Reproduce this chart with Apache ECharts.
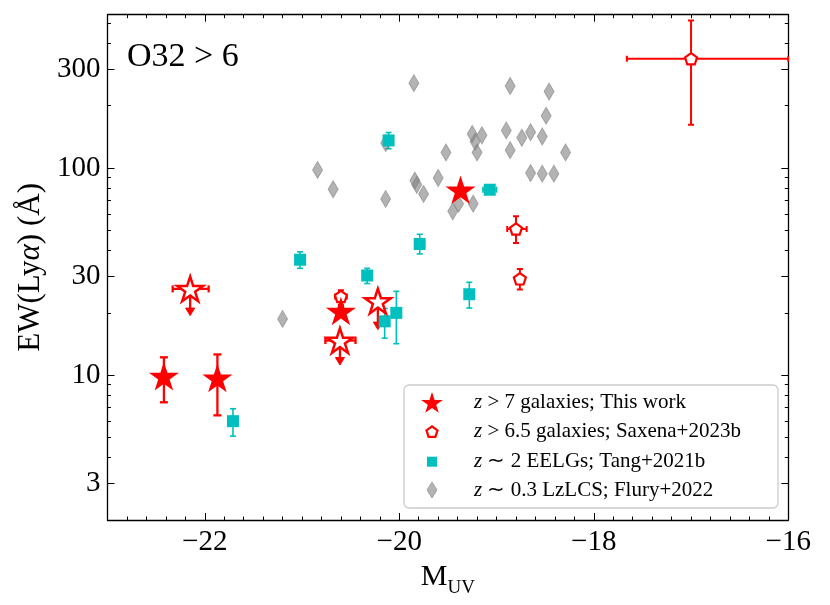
<!DOCTYPE html>
<html><head><meta charset="utf-8">
<script src="https://cdn.jsdelivr.net/npm/echarts@6/dist/echarts.min.js"></script>
<style>html,body{margin:0;padding:0;background:#fff}#c{width:830px;height:605px}</style>
</head><body><div id="c"></div>
<script>
// ---- This work (z > 7), detections ----
const twM    = [-22.42, -21.87, -20.60, -19.37];
const twEW   = [9.9, 9.7, 20.4, 78.5];
const twEWlo = [7.4, 6.4, null, null];
const twEWhi = [12.2, 12.6, null, null];
// ---- This work, upper limits ----
const ulM    = [-22.15, -20.61, -20.22];
const ulEW   = [26.1, 14.7, 22.8];
const ulMlo  = [-22.33, -20.76, null];
const ulMhi  = [-21.96, -20.45, null];
const ulTip  = [19.4, 11.2, 16.6];
// ---- Saxena+2023b ----
const sxM    = [-17.0, -18.80, -18.76, -20.60];
const sxEW   = [337, 50.8, 29.2, 24.0];
const sxMlo  = [-17.66, -18.89, null, -20.66];
const sxMhi  = [-16.0, -18.69, null, -20.54];
const sxEWlo = [162, 43.5, 25.9, 21.8];
const sxEWhi = [515, 58.5, 32.6, 25.7];
// ---- Tang+2021b ----
const tgM    = [-20.11, -21.02, -19.79, -20.33, -19.07, -19.28, -20.15, -20.03, -21.71];
const tgEW   = [136, 36.1, 43.0, 30.3, 78.6, 24.6, 18.2, 20.0, 6.0];
const tgMlo  = [null, null, null, null, -19.14, null, null, null, null];
const tgMhi  = [null, null, null, null, -19.00, null, null, null, null];
const tgEWlo = [124, 32.8, 38.5, 27.7, 76, 21.1, 15.1, 14.2, 5.08];
const tgEWhi = [148.5, 39.4, 47.9, 32.8, 81, 28.1, 21.0, 25.4, 6.89];
// ---- Flury+2022 ----
const flM  = [-19.85,-18.86,-18.46,-18.49,-19.25,-19.15,-19.22,-19.20,-18.90,-18.74,-18.65,-18.53,-18.86,-19.52,-18.29,-20.14,-20.84,-20.68,-20.14,-19.84,-19.82,-19.75,-19.60,-18.65,-18.53,-18.41,-19.39,-19.45,-19.24,-21.20];
const flEW = [257,249,234,179,146,144,134,119,152,140,149,142,122,119,119,132,98,79,71,87,83,75,89.5,94.6,94,94,67.3,61.8,67.3,18.7];
// ---- axes / labels ----
const xTicks = [-22, -20, -18, -16];
const yTicks = [3, 10, 30, 100, 300];
const yMinor = [4,5,6,7,8,9,20,40,50,60,70,80,90,200,400,500];
const names = ['z > 7 galaxies; This work', 'z > 6.5 galaxies; Saxena+2023b', 'z \u223c 2 EELGs; Tang+2021b', 'z \u223c 0.3 LzLCS; Flury+2022'];

const FONT = 'Liberation Serif';
const RED = '#ff0000', CYAN = '#00bfbf', GREY = '#808080';

function starPts(cx, cy, R){
  const p=[];
  for(let k=0;k<10;k++){const r=k%2===0?R:R*0.381966;const a=Math.PI/2+k*Math.PI/5;p.push([cx+r*Math.cos(a), cy-r*Math.sin(a)]);}
  return p;
}
function pentPts(cx, cy, R){
  const p=[];
  for(let k=0;k<5;k++){const a=Math.PI/2+k*2*Math.PI/5;p.push([cx+R*Math.cos(a), cy-R*Math.sin(a)]);}
  return p;
}
const toPath = pts => 'path://M' + pts.map(q=>q[0].toFixed(4)+' '+q[1].toFixed(4)).join(' L') + ' Z';
const STAR = toPath(starPts(0,0,1)), PENT = toPath(pentPts(0,0,1));
const DIAM = 'path://M0 -1 L0.6 0 L0 1 L-0.6 0 Z';
const SQR = 'path://M0 0 L1 0 L1 1 L0 1 Z';

const zip = (a,b) => a.map((v,i)=>[v,b[i]]);
const pick = (arr,i,d) => (arr && arr[i]!=null) ? arr[i] : d;
const errData = (x,y,xl,xh,yl,yh) => x.map((v,i)=>[v, y[i], pick(xl,i,v), pick(xh,i,v), pick(yl,i,y[i]), pick(yh,i,y[i])]);

function errRender(color, lw, cap){
  return function(params, api){
    const x=api.value(0), y=api.value(1), xl=api.value(2), xh=api.value(3), yl=api.value(4), yh=api.value(5);
    const c=api.coord([x,y]); const ch=[];
    const L=(x1,y1,x2,y2)=>ch.push({type:'line',shape:{x1,y1,x2,y2},style:{stroke:color,lineWidth:lw}});
    if(xl!==x||xh!==x){const a=api.coord([xl,y]),b=api.coord([xh,y]);L(a[0],c[1],b[0],c[1]);L(a[0],c[1]-cap,a[0],c[1]+cap);L(b[0],c[1]-cap,b[0],c[1]+cap);}
    if(yl!==y||yh!==y){const a=api.coord([x,yl]),b=api.coord([x,yh]);L(c[0],a[1],c[0],b[1]);L(c[0]-cap,a[1],c[0]+cap,a[1]);L(c[0]-cap,b[1],c[0]+cap,b[1]);}
    return {type:'group',children:ch};
  };
}
function ulRender(params, api){
  const x=api.value(0), y=api.value(1), xl=api.value(2), xh=api.value(3), tip=api.value(4);
  const c=api.coord([x,y]), t=api.coord([x,tip]); const ch=[];
  const L=(x1,y1,x2,y2)=>ch.push({type:'line',shape:{x1,y1,x2,y2},style:{stroke:RED,lineWidth:2.3}});
  if(xl!==x||xh!==x){const a=api.coord([xl,y]),b=api.coord([xh,y]);L(a[0],c[1],b[0],c[1]);L(a[0],c[1]-3.5,a[0],c[1]+3.5);L(b[0],c[1]-3.5,b[0],c[1]+3.5);}
  L(c[0],c[1],c[0],t[1]-3);
  ch.push({type:'polygon',shape:{points:[[t[0]-4.5,t[1]-7.5],[t[0]+4.5,t[1]-7.5],[t[0],t[1]]]},style:{fill:RED,stroke:RED,lineWidth:1}});
  return {type:'group',children:ch};
}

const axLine = {show:true, lineStyle:{color:'#000', width:1.3}};
const tickStyle = {color:'#000', width:1};
const fmtX = v => (v<0?'\u2212':'')+Math.abs(v);
const xAxes = [
  {type:'value', position:'bottom', min:-23, max:-16, splitLine:{show:false}, axisLine:axLine,
   axisTick:{show:true, inside:true, length:7, customValues:xTicks, lineStyle:tickStyle},
   axisLabel:{show:true, customValues:xTicks, formatter:fmtX, fontFamily:FONT, fontSize:29, color:'#000', margin:8},
   name:'{m|M}{s|UV}', nameLocation:'middle', nameGap:36,
   nameTextStyle:{rich:{m:{fontFamily:FONT,fontSize:30,color:'#000',verticalAlign:'bottom',padding:[0,0,6,0]},s:{fontFamily:FONT,fontSize:19,color:'#000',verticalAlign:'bottom'}}}},
  {type:'value', position:'bottom', min:-23, max:-16, interval:0.2, splitLine:{show:false}, axisLine:{show:false},
   axisTick:{show:true, inside:true, length:3.5, lineStyle:tickStyle}, axisLabel:{show:false}},
  {type:'value', position:'top', min:-23, max:-16, splitLine:{show:false}, axisLine:axLine,
   axisTick:{show:true, inside:true, length:7, customValues:xTicks, lineStyle:tickStyle}, axisLabel:{show:false}},
  {type:'value', position:'top', min:-23, max:-16, interval:0.2, splitLine:{show:false}, axisLine:{show:false},
   axisTick:{show:true, inside:true, length:3.5, lineStyle:tickStyle}, axisLabel:{show:false}}
];
const yAxes = [
  {type:'log', logBase:10, position:'left', min:2, max:550, splitLine:{show:false}, axisLine:axLine,
   axisTick:{show:true, inside:true, length:7, customValues:yTicks, lineStyle:tickStyle},
   axisLabel:{show:true, customValues:yTicks, formatter:v=>String(Math.round(v)), fontFamily:FONT, fontSize:29, color:'#000', margin:7},
   name:'{n|EW(Ly}{i|\u03b1}{n|) (\u00c5)}', nameLocation:'middle', nameGap:60, nameRotate:90,
   nameTextStyle:{rich:{n:{fontFamily:FONT,fontSize:31,color:'#000'},i:{fontFamily:FONT,fontSize:31,fontStyle:'italic',color:'#000'}}}},
  {type:'log', logBase:10, position:'left', min:2, max:550, splitLine:{show:false}, axisLine:{show:false},
   axisTick:{show:true, inside:true, length:3.5, customValues:yMinor, lineStyle:tickStyle}, axisLabel:{show:false}},
  {type:'log', logBase:10, position:'right', min:2, max:550, splitLine:{show:false}, axisLine:axLine,
   axisTick:{show:true, inside:true, length:7, customValues:yTicks, lineStyle:tickStyle}, axisLabel:{show:false}},
  {type:'log', logBase:10, position:'right', min:2, max:550, splitLine:{show:false}, axisLine:{show:false},
   axisTick:{show:true, inside:true, length:3.5, customValues:yMinor, lineStyle:tickStyle}, axisLabel:{show:false}}
];

// ---- legend (drawn as graphic decoration) ----
const LX = 432, TX = 474, rowsY = [402.7, 431.7, 461.7, 490.0];
const legRich = {i:{fontFamily:FONT,fontSize:21,fontStyle:'italic',fill:'#000'}, n:{fontFamily:FONT,fontSize:21,fill:'#000'}};
const legendGraphic = [
  {type:'rect', z:50, shape:{x:404, y:385, width:374, height:123, r:5}, style:{fill:'rgba(255,255,255,0.8)', stroke:'#cccccc', lineWidth:1.3}},
  {type:'polygon', z:51, shape:{points:starPts(LX, rowsY[0]+0.8, 11.5)}, style:{fill:RED}},
  {type:'polygon', z:51, shape:{points:pentPts(LX, rowsY[1]+0.5, 5.8)}, style:{fill:'#fff', stroke:RED, lineWidth:2.2}},
  {type:'rect', z:51, shape:{x:LX-5, y:rowsY[2]-5, width:10, height:10}, style:{fill:CYAN}},
  {type:'polygon', z:51, shape:{points:[[LX,rowsY[3]-8],[LX+5,rowsY[3]],[LX,rowsY[3]+8],[LX-5,rowsY[3]]]}, style:{fill:GREY, opacity:0.6, stroke:GREY, lineWidth:1}}
].concat(names.map((n,i)=>({type:'text', z:52, x:TX, y:rowsY[i],
  style:{text:'{i|z}{n|'+n.slice(1)+'}', rich:legRich, fontFamily:FONT, fontSize:21, fill:'#000', verticalAlign:'middle', align:'left'}})));

const base = {xAxisIndex:0, yAxisIndex:0, animation:false, silent:true};
const option = {
  animation:false,
  backgroundColor:'#fff',
  grid:{left:107.5, right:41.7, top:14.7, bottom:85, containLabel:false, outerBoundsMode:'none'},
  title:{text:'O32 > 6', left:127, top:40, padding:0, textStyle:{fontFamily:FONT, fontSize:34, fontWeight:'normal', color:'#000'}},
  xAxis:xAxes, yAxis:yAxes,
  graphic:legendGraphic,
  series:[
    Object.assign({type:'scatter', name:names[3], data:zip(flM,flEW), symbol:DIAM, symbolSize:[10,17],
      itemStyle:{color:GREY, opacity:0.6, borderColor:GREY, borderWidth:1}}, base),
    Object.assign({type:'custom', name:'tang-err', data:errData(tgM,tgEW,tgMlo,tgMhi,tgEWlo,tgEWhi), renderItem:errRender(CYAN,1.6,3)}, base),
    Object.assign({type:'scatter', name:names[2], data:zip(tgM,tgEW), symbol:SQR, symbolSize:12, itemStyle:{color:CYAN, opacity:1}}, base),
    Object.assign({type:'custom', name:'sax-err', data:errData(sxM,sxEW,sxMlo,sxMhi,sxEWlo,sxEWhi), renderItem:errRender(RED,2,3), clip:true}, base),
    Object.assign({type:'scatter', name:names[1], data:zip(sxM,sxEW), symbol:PENT, symbolSize:12, symbolKeepAspect:true,
      itemStyle:{color:'#fff', borderColor:RED, borderWidth:2.2, opacity:1}}, base),
    Object.assign({type:'custom', name:'tw-err', data:errData(twM,twEW,null,null,twEWlo,twEWhi), renderItem:errRender(RED,2.3,4)}, base),
    Object.assign({type:'scatter', name:names[0], data:zip(twM,twEW), symbol:STAR, symbolSize:30, symbolKeepAspect:true, itemStyle:{color:RED, opacity:1}}, base),
    Object.assign({type:'custom', name:'ul-err', data:ulM.map((v,i)=>[v, ulEW[i], pick(ulMlo,i,v), pick(ulMhi,i,v), ulTip[i]]), renderItem:ulRender}, base),
    Object.assign({type:'scatter', name:'upper limits', data:zip(ulM,ulEW), symbol:STAR, symbolSize:26, symbolKeepAspect:true,
      itemStyle:{color:'#fff', borderColor:RED, borderWidth:2.5, opacity:1}}, base)
  ]
};
const chart = echarts.init(document.getElementById('c'), null, {renderer:'canvas'});
chart.setOption(option);
</script></body></html>
